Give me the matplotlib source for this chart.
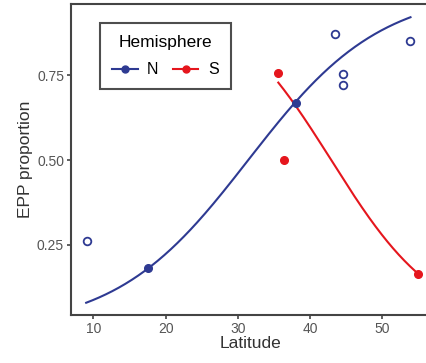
import numpy as np
import matplotlib.pyplot as plt
from matplotlib.lines import Line2D

plt.rcParams["font.family"] = ["Liberation Sans", "DejaVu Sans"]

# Observed points
n_filled_lat = [17.6, 38.0]
n_filled_epp = [0.181, 0.668]
n_open_lat = [9.1, 43.4, 44.6, 44.6, 53.8]
n_open_epp = [0.262, 0.871, 0.752, 0.722, 0.851]
s_lat = [35.6, 36.4, 54.9]
s_epp = [0.755, 0.50, 0.165]

# Fitted logistic curves (intercept, slope on latitude) and their ranges
n_coef = (-3.421, 0.1088)
n_range = (9.0, 53.9)
s_coef = (5.768, -0.1344)
s_range = (35.6, 55.0)

blue = "#2E3A92"
red = "#E5161D"

fig = plt.figure(figsize=(4.27, 3.63), dpi=100)
ax = fig.add_axes([71 / 427, 48 / 363, 359 / 427, 311 / 363])


def fit_line(coef, rng):
    x = np.linspace(rng[0], rng[1], 200)
    return x, 1 / (1 + np.exp(-(coef[0] + coef[1] * x)))


x, y = fit_line(n_coef, n_range)
ax.plot(x, y, color=blue, lw=1.5, zorder=2)
x, y = fit_line(s_coef, s_range)
ax.plot(x, y, color=red, lw=1.5, zorder=2)

ax.plot(n_filled_lat, n_filled_epp, "o", color=blue, ms=5.5, zorder=3)
ax.plot(n_open_lat, n_open_epp, "o", mfc="none", mec=blue, mew=1.3, ms=5.5, zorder=3)
ax.plot(s_lat, s_epp, "o", color=red, ms=5.5, zorder=3)

ax.set_xlim(6.9, 56.6)
ax.set_ylim(0.044, 0.959)
ax.set_xticks([10, 20, 30, 40, 50])
ax.set_yticks([0.25, 0.50, 0.75])
ax.set_yticklabels(["0.25", "0.50", "0.75"])

for side in ["left", "bottom", "top"]:
    ax.spines[side].set_color("#444444")
    ax.spines[side].set_linewidth(1.5)
ax.spines["right"].set_visible(False)
ax.tick_params(colors="#444444", labelcolor="#555555", labelsize=10, width=1.2, length=3, pad=2)

ax.set_xlabel("Latitude", fontsize=12.5, color="#333333", labelpad=0)
ax.set_ylabel("EPP proportion", fontsize=12.5, color="#333333", labelpad=3)

handles = [
    Line2D([], [], color=blue, marker="o", ms=5, lw=1.5),
    Line2D([], [], color=red, marker="o", ms=5, lw=1.5),
]
leg = ax.legend(handles, ["N", "S"], title="Hemisphere", ncol=2,
                loc="upper left", bbox_to_anchor=(100 / 427, 1 - 23 / 363),
                bbox_transform=fig.transFigure, frameon=True, fancybox=False,
                fontsize=11.5, title_fontsize=12.5, handlelength=1.6,
                columnspacing=0.9, handletextpad=0.6, borderpad=0.75,
                borderaxespad=0)
leg._legend_box.sep = 9
leg.get_frame().set_edgecolor("#222222")
leg.get_frame().set_linewidth(1.5)

fig.savefig("out.png", dpi=100)
